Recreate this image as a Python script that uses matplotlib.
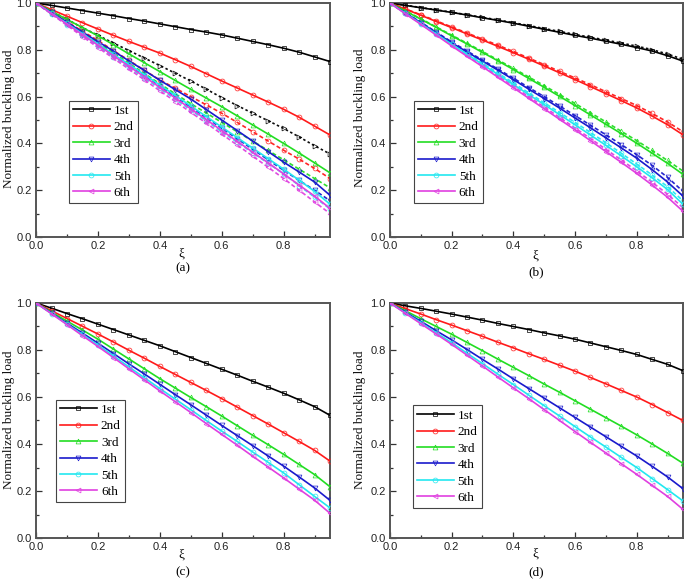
import matplotlib
matplotlib.use("Agg")
import matplotlib.pyplot as plt
from matplotlib.ticker import MultipleLocator

xi = [0.00, 0.05, 0.10, 0.15, 0.20, 0.25, 0.30, 0.35, 0.40, 0.45,
      0.50, 0.55, 0.60, 0.65, 0.70, 0.75, 0.80, 0.85, 0.90, 0.95]
mode_labels = ["1st", "2nd", "3rd", "4th", "5th", "6th"]

# Panel (a) solid
a1 = [1.000, 0.990, 0.979, 0.968, 0.957, 0.946, 0.934, 0.923, 0.911, 0.899, 0.887, 0.876, 0.864, 0.850, 0.836, 0.822, 0.807, 0.790, 0.770, 0.750]
a2 = [1.000, 0.972, 0.944, 0.916, 0.889, 0.862, 0.836, 0.811, 0.786, 0.758, 0.729, 0.698, 0.667, 0.637, 0.607, 0.577, 0.546, 0.512, 0.474, 0.436]
a3 = [1.000, 0.965, 0.930, 0.895, 0.860, 0.822, 0.783, 0.745, 0.707, 0.669, 0.631, 0.594, 0.557, 0.518, 0.479, 0.440, 0.400, 0.359, 0.317, 0.274]
a4 = [1.000, 0.960, 0.918, 0.876, 0.835, 0.795, 0.753, 0.712, 0.670, 0.630, 0.590, 0.545, 0.500, 0.455, 0.410, 0.365, 0.320, 0.278, 0.235, 0.178]
a5 = [1.000, 0.957, 0.913, 0.869, 0.825, 0.781, 0.738, 0.694, 0.650, 0.605, 0.560, 0.515, 0.470, 0.425, 0.380, 0.335, 0.290, 0.243, 0.195, 0.140]
a6 = [1.000, 0.955, 0.910, 0.865, 0.820, 0.775, 0.730, 0.685, 0.640, 0.594, 0.548, 0.502, 0.455, 0.409, 0.363, 0.317, 0.270, 0.222, 0.175, 0.122]
# Panel (a) dashed
a1d = [1.000, 0.965, 0.930, 0.895, 0.862, 0.829, 0.797, 0.765, 0.733, 0.700, 0.667, 0.632, 0.596, 0.562, 0.529, 0.497, 0.464, 0.428, 0.390, 0.355]
a2d = [1.000, 0.960, 0.920, 0.880, 0.840, 0.797, 0.755, 0.713, 0.671, 0.636, 0.600, 0.565, 0.529, 0.490, 0.450, 0.410, 0.371, 0.333, 0.293, 0.250]
a3d = [1.000, 0.958, 0.915, 0.872, 0.830, 0.787, 0.743, 0.699, 0.655, 0.612, 0.570, 0.530, 0.490, 0.450, 0.410, 0.370, 0.330, 0.290, 0.250, 0.210]
a4d = [1.000, 0.955, 0.910, 0.865, 0.820, 0.776, 0.733, 0.689, 0.645, 0.600, 0.555, 0.510, 0.465, 0.420, 0.375, 0.330, 0.285, 0.242, 0.200, 0.155]
a5d = [1.000, 0.954, 0.908, 0.862, 0.815, 0.770, 0.725, 0.680, 0.635, 0.589, 0.543, 0.497, 0.450, 0.405, 0.360, 0.315, 0.270, 0.220, 0.170, 0.120]
a6d = [1.000, 0.953, 0.905, 0.857, 0.810, 0.764, 0.718, 0.672, 0.625, 0.579, 0.533, 0.487, 0.440, 0.393, 0.346, 0.298, 0.250, 0.200, 0.150, 0.100]

# Panel (b) solid
b1 = [1.000, 0.990, 0.980, 0.970, 0.960, 0.949, 0.937, 0.926, 0.914, 0.901, 0.888, 0.875, 0.862, 0.850, 0.837, 0.824, 0.810, 0.795, 0.775, 0.752]
b2 = [1.000, 0.974, 0.948, 0.921, 0.895, 0.868, 0.842, 0.815, 0.788, 0.760, 0.731, 0.702, 0.673, 0.643, 0.613, 0.583, 0.552, 0.517, 0.480, 0.437]
b3 = [1.000, 0.966, 0.931, 0.896, 0.860, 0.825, 0.789, 0.753, 0.716, 0.678, 0.640, 0.601, 0.562, 0.522, 0.482, 0.442, 0.401, 0.358, 0.315, 0.268]
b4 = [1.000, 0.958, 0.916, 0.873, 0.830, 0.791, 0.752, 0.713, 0.673, 0.632, 0.592, 0.551, 0.509, 0.467, 0.424, 0.381, 0.337, 0.288, 0.235, 0.175]
b5 = [1.000, 0.956, 0.912, 0.868, 0.824, 0.781, 0.738, 0.695, 0.652, 0.609, 0.566, 0.523, 0.480, 0.436, 0.392, 0.347, 0.300, 0.253, 0.203, 0.140]
b6 = [1.000, 0.954, 0.909, 0.863, 0.817, 0.772, 0.728, 0.683, 0.638, 0.593, 0.548, 0.503, 0.458, 0.412, 0.365, 0.319, 0.272, 0.222, 0.170, 0.110]
# Panel (b) dashed
b1d = [1.000, 0.991, 0.981, 0.971, 0.961, 0.950, 0.939, 0.928, 0.916, 0.904, 0.891, 0.879, 0.866, 0.854, 0.842, 0.829, 0.816, 0.801, 0.782, 0.760]
b2d = [1.000, 0.975, 0.950, 0.924, 0.898, 0.872, 0.846, 0.820, 0.793, 0.765, 0.737, 0.708, 0.680, 0.651, 0.621, 0.592, 0.562, 0.528, 0.492, 0.450]
b3d = [1.000, 0.967, 0.933, 0.898, 0.863, 0.828, 0.793, 0.757, 0.721, 0.684, 0.647, 0.609, 0.571, 0.531, 0.492, 0.452, 0.412, 0.370, 0.327, 0.282]
b4d = [1.000, 0.959, 0.918, 0.876, 0.834, 0.795, 0.756, 0.718, 0.679, 0.639, 0.600, 0.560, 0.519, 0.478, 0.437, 0.395, 0.352, 0.306, 0.255, 0.195]
b5d = [1.000, 0.957, 0.914, 0.870, 0.827, 0.785, 0.743, 0.701, 0.659, 0.616, 0.574, 0.532, 0.490, 0.447, 0.403, 0.358, 0.312, 0.265, 0.215, 0.155]
b6d = [1.000, 0.955, 0.911, 0.866, 0.821, 0.777, 0.733, 0.689, 0.645, 0.600, 0.556, 0.511, 0.466, 0.421, 0.375, 0.329, 0.283, 0.234, 0.183, 0.125]

# Panel (c)
c1 = [1.000, 0.978, 0.955, 0.933, 0.910, 0.887, 0.864, 0.841, 0.818, 0.793, 0.768, 0.743, 0.718, 0.693, 0.667, 0.642, 0.616, 0.588, 0.559, 0.522]
c2 = [1.000, 0.967, 0.934, 0.901, 0.868, 0.834, 0.799, 0.765, 0.730, 0.696, 0.662, 0.628, 0.593, 0.557, 0.521, 0.485, 0.448, 0.411, 0.373, 0.327]
c3 = [1.000, 0.961, 0.923, 0.885, 0.846, 0.804, 0.762, 0.720, 0.678, 0.638, 0.598, 0.559, 0.519, 0.478, 0.437, 0.397, 0.356, 0.313, 0.270, 0.218]
c4 = [1.000, 0.957, 0.914, 0.872, 0.829, 0.785, 0.741, 0.698, 0.654, 0.610, 0.567, 0.523, 0.479, 0.436, 0.393, 0.349, 0.306, 0.260, 0.213, 0.160]
c5 = [1.000, 0.955, 0.910, 0.866, 0.821, 0.775, 0.728, 0.682, 0.636, 0.591, 0.546, 0.500, 0.455, 0.411, 0.366, 0.322, 0.277, 0.227, 0.177, 0.128]
c6 = [1.000, 0.954, 0.908, 0.861, 0.815, 0.768, 0.720, 0.673, 0.626, 0.580, 0.534, 0.487, 0.441, 0.395, 0.348, 0.302, 0.256, 0.208, 0.161, 0.105]

# Panel (d)
d1 = [1.000, 0.988, 0.977, 0.965, 0.953, 0.940, 0.927, 0.913, 0.900, 0.887, 0.873, 0.860, 0.846, 0.830, 0.814, 0.798, 0.781, 0.760, 0.739, 0.712]
d2 = [1.000, 0.976, 0.953, 0.929, 0.906, 0.882, 0.858, 0.833, 0.809, 0.784, 0.760, 0.735, 0.710, 0.683, 0.656, 0.628, 0.600, 0.568, 0.534, 0.500]
d3 = [1.000, 0.967, 0.933, 0.900, 0.867, 0.832, 0.797, 0.761, 0.726, 0.691, 0.655, 0.620, 0.584, 0.548, 0.512, 0.476, 0.439, 0.400, 0.360, 0.318]
d4 = [1.000, 0.961, 0.922, 0.882, 0.843, 0.802, 0.760, 0.719, 0.677, 0.636, 0.595, 0.554, 0.513, 0.472, 0.431, 0.390, 0.349, 0.305, 0.260, 0.210]
d5 = [1.000, 0.958, 0.916, 0.873, 0.831, 0.786, 0.742, 0.697, 0.653, 0.608, 0.563, 0.519, 0.474, 0.430, 0.387, 0.343, 0.300, 0.253, 0.206, 0.158]
d6 = [1.000, 0.956, 0.912, 0.868, 0.824, 0.778, 0.732, 0.685, 0.639, 0.593, 0.546, 0.500, 0.453, 0.407, 0.362, 0.316, 0.271, 0.224, 0.177, 0.122]

colors = ["#000000", "#ff1a1a", "#22dd22", "#1a1acc", "#22e8f0", "#e040e0"]
markers = ["s", "o", "^", "v", "o", "<"]
dashed_markers = [">", "o", "^", "v", "o", "<"]

SANS = "Liberation Sans"
SERIF = "Liberation Serif"

fig = plt.figure(figsize=(6.85, 5.79), dpi=100)

panels = [
    dict(pos=[0.0526, 0.5907, 0.4292, 0.4040], solid=[a1, a2, a3, a4, a5, a6],
         dashed=[a1d, a2d, a3d, a4d, a5d, a6d], tag="(a)", leg=(0.112, 0.145),
         ylab=(-0.072, 0.504), xi_y=-0.072, tag_y=-0.135),
    dict(pos=[0.5693, 0.5907, 0.4277, 0.4040], solid=[b1, b2, b3, b4, b5, b6],
         dashed=[b1d, b2d, b3d, b4d, b5d, b6d], tag="(b)", leg=(0.082, 0.145),
         ylab=(-0.082, 0.51), xi_y=-0.08, tag_y=-0.15),
    dict(pos=[0.0526, 0.0708, 0.4292, 0.4059], solid=[c1, c2, c3, c4, c5, c6],
         dashed=None, tag="(c)", leg=(0.068, 0.153),
         ylab=(-0.072, 0.502), xi_y=-0.07, tag_y=-0.145),
    dict(pos=[0.5693, 0.0708, 0.4277, 0.4059], solid=[d1, d2, d3, d4, d5, d6],
         dashed=None, tag="(d)", leg=(0.078, 0.128),
         ylab=(-0.082, 0.502), xi_y=-0.066, tag_y=-0.145),
]

for p in panels:
    ax = fig.add_axes(p["pos"])
    handles = []
    if p["dashed"] is not None:
        for k, ys in enumerate(p["dashed"]):
            ls = (0, (1.5, 1.5)) if k == 0 else (0, (2.5, 1.5))
            ax.plot(xi, ys, linestyle=ls, color=colors[k], lw=1.2,
                    marker=dashed_markers[k], ms=3.5, mfc="none", mew=0.5,
                    mec=colors[k], alpha=0.95, zorder=2)
    for k, ys in enumerate(p["solid"]):
        h, = ax.plot(xi, ys, linestyle="-", color=colors[k], lw=1.2,
                     marker=markers[k], ms=3.5, mfc="none", mew=0.5, zorder=3,
                     label=mode_labels[k])
        handles.append(h)
    ax.set_xlim(0, 0.95)
    ax.set_ylim(0, 1.0)
    ax.xaxis.set_major_locator(MultipleLocator(0.2))
    ax.xaxis.set_minor_locator(MultipleLocator(0.1))
    ax.yaxis.set_major_locator(MultipleLocator(0.2))
    ax.yaxis.set_minor_locator(MultipleLocator(0.1))
    ax.tick_params(which="both", direction="in", top=False, right=False,
                   color="#333333", width=0.9)
    ax.tick_params(which="major", length=4, pad=3, labelsize=8, labelcolor="#222222")
    ax.tick_params(which="minor", length=2.5)
    ax.xaxis.set_major_formatter(plt.FuncFormatter(lambda v, pos: f"{v:.1f}"))
    ax.yaxis.set_major_formatter(plt.FuncFormatter(lambda v, pos: f"{v:.1f}"))
    for s in ax.spines.values():
        s.set_color("#555555")
        s.set_linewidth(1.4)
    ax.set_ylabel("Normalized buckling load", fontfamily=SERIF, fontsize=9.5, color="#111111")
    ax.yaxis.set_label_coords(*p["ylab"])
    ax.text(0.495, p["xi_y"], "ξ", transform=ax.transAxes, ha="center", va="center",
            fontfamily=SERIF, fontsize=9.5)
    ax.text(0.5, p["tag_y"], p["tag"], transform=ax.transAxes, ha="center", va="center",
            fontfamily=SERIF, fontsize=9.5)
    leg = ax.legend(handles=handles, loc="lower left", bbox_to_anchor=p["leg"],
                    prop={"family": SERIF, "size": 9.5}, frameon=True, fancybox=False,
                    shadow=False, handlelength=2.8, handletextpad=0.3,
                    labelspacing=0.32, borderpad=0.3, borderaxespad=0.0)
    fr = leg.get_frame()
    fr.set_edgecolor("#444444")
    fr.set_linewidth(0.8)
    fr.set_alpha(1.0)
    for t in ax.get_xticklabels() + ax.get_yticklabels():
        t.set_fontfamily(SANS)

fig.savefig("out.png", dpi=100)
